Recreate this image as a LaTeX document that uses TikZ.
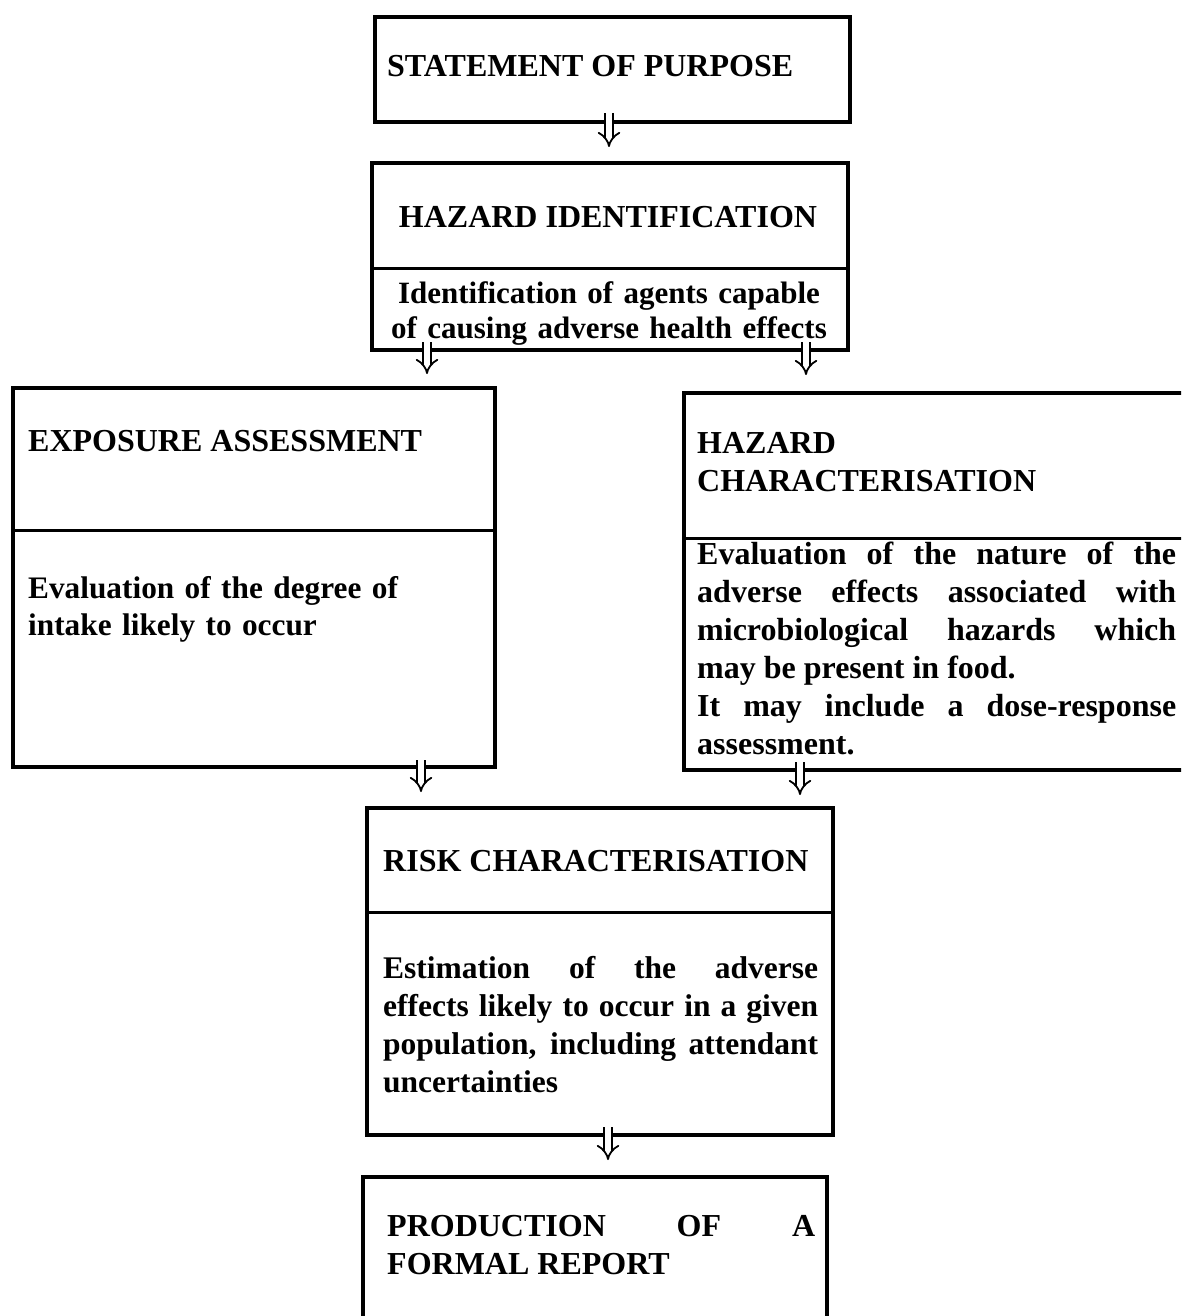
\documentclass[tikz,border=0pt]{standalone}
\usepackage{fontspec}
\setmainfont{Liberation Serif}
\usetikzlibrary{arrows.meta,calc}
\begin{document}
\begin{tikzpicture}[x=1pt,y=-1pt,
  box/.style={draw, line width=3.5pt, inner sep=0pt, outer sep=0pt, anchor=north west},
  div/.style={line width=3pt},
  txt/.style={inner sep=0pt, anchor=base west, font=\fontsize{32}{38}\selectfont\bfseries},
  dar/.style={double, double distance=6pt, line width=1.8pt, -{Implies[length=10pt,width=22pt]}}]
\useasboundingbox (0,0) rectangle (1181,1316);
\clip (0,0) rectangle (1181,1316);
% boxes
\node[box, minimum width=475pt, minimum height=105pt] (stmt) at (375,17) {};
\node[box, minimum width=476pt, minimum height=187pt] (hid) at (372,163) {};
\node[box, minimum width=482pt, minimum height=379pt] (exp) at (13,388) {};
\node[box, minimum width=520pt, minimum height=377pt] (hch) at (684,393) {};
\node[box, minimum width=466pt, minimum height=327pt] (risk) at (367,808) {};
\node[box, minimum width=464pt, minimum height=160pt] (prod) at (363,1177) {};
% dividers
\draw[div] ($(hid.north west)+(0,105)$) -- ($(hid.north east)+(0,105)$);
\draw[div] ($(exp.north west)+(0,142)$) -- ($(exp.north east)+(0,142)$);
\draw[div] ($(hch.north west)+(0,145)$) -- ($(hch.north east)+(0,145)$);
\draw[div] ($(risk.north west)+(0,104)$) -- ($(risk.north east)+(0,104)$);
% texts
\node[txt] (t1) at (387,77) {STATEMENT OF PURPOSE};
\node[txt, anchor=base] (t2) at (608,227) {HAZARD IDENTIFICATION};
\node[txt, anchor=base, text width=460pt, align=center, font=\fontsize{31}{35}\selectfont\bfseries] (t3) at (609,303) {Identification of agents capable\\of causing adverse health effects};
\node[txt] (t4) at (28,451) {EXPOSURE ASSESSMENT};
\node[txt, text width=440pt, align=left, font=\fontsize{31.3}{37}\selectfont\bfseries] (t5) at (28,598) {Evaluation of the degree of\\intake likely to occur};
\node[txt, text width=460pt, align=left] (t6) at (697,453) {HAZARD\\CHARACTERISATION};
\node[txt, text width=479pt, align=justify] (t7) at (697,564) {Evaluation of the nature of the\linebreak adverse effects associated with\linebreak microbiological hazards which\linebreak may be present in food.\newline It may include a dose-response\linebreak assessment.};
\node[txt] (t8) at (383,871) {RISK CHARACTERISATION};
\node[txt, text width=435pt, align=justify, font=\fontsize{31.5}{38}\selectfont\bfseries] (t9) at (383,978) {Estimation of the adverse\linebreak effects likely to occur in a given\linebreak population, including attendant\linebreak uncertainties};
\node[txt, text width=428pt, align=justify, font=\fontsize{32}{38}\selectfont\bfseries] (t10) at (387,1236) {PRODUCTION OF A\linebreak FORMAL REPORT};
% arrows
\draw[dar] ($(stmt.south west)+(234,-9)$) -- ($(hid.north west)+(237,-16)$);
\draw[dar] ($(hid.south west)+(55,-8)$) -- ($(exp.north west)+(414,-14)$);
\draw[dar] ($(hid.south west)+(434,-8)$) -- ($(hch.north west)+(122,-18)$);
\draw[dar] ($(exp.south west)+(408,-7)$) -- ($(risk.north west)+(54,-16)$);
\draw[dar] ($(hch.south west)+(116,-8)$) -- ($(risk.north west)+(433,-13)$);
\draw[dar] ($(risk.south west)+(241,-8)$) -- ($(prod.north west)+(245,-17)$);
\end{tikzpicture}
\end{document}
